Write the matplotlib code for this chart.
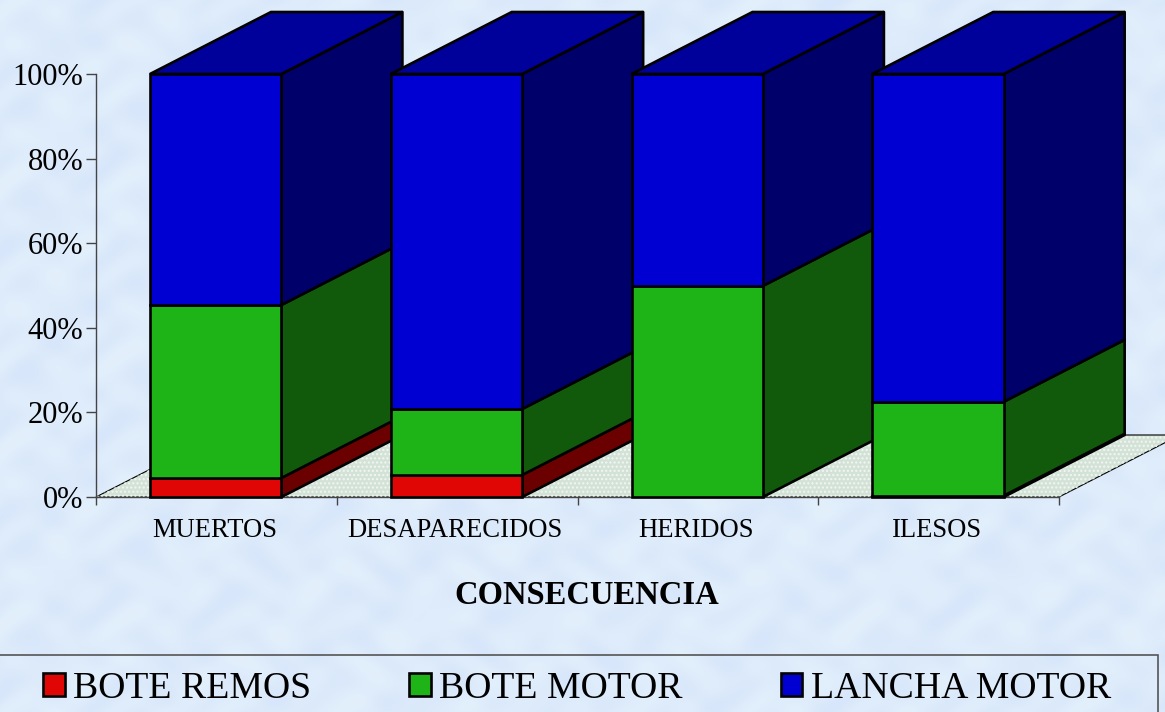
import numpy as np
import matplotlib
matplotlib.use("Agg")
import matplotlib.pyplot as plt
from matplotlib.patches import Polygon, Patch, Rectangle

plt.rcParams['font.family'] = ['Liberation Serif', 'DejaVu Serif']

categorias = ["MUERTOS", "DESAPARECIDOS", "HERIDOS", "ILESOS"]
bote_remos = [4.5, 5.2, 0.0, 0.3]
bote_motor = [40.9, 15.6, 49.9, 22.2]
lancha_motor = [54.6, 79.2, 50.1, 77.5]
nombres = ["BOTE REMOS", "BOTE MOTOR", "LANCHA MOTOR"]
yticks = [0, 20, 40, 60, 80, 100]

frente = ["#e00606", "#1eb417", "#0000d2"]
lado = ["#6b0000", "#115a0b", "#00006b"]
techo = "#00009a"

W, H = 1165, 712
dx = 121 / 240.75   # depth of the fake 3d, in category units
dy = 62 / 4.23      # same, in percent units
ancho = 131.4 / 240.75
margen = 54 / 240.75
lw = 1.9

fig = plt.figure(figsize=(W / 100, H / 100), dpi=100)

# mottled pale blue background
bg = fig.add_axes([0, 0, 1, 1], zorder=-1)
yy, xx = np.mgrid[0:H, 0:W]
manchas = (np.sin(xx / 9.0 + np.sin(yy / 14.0) * 2) + np.sin(yy / 7.0 + np.sin(xx / 17.0) * 2)
           + np.sin((xx + yy) / 23.0)) / 3
base = np.array([221, 235, 251]) / 255
tinte = np.array([6, 5, 1]) / 255
bg.imshow(np.clip(base + manchas[..., None] * tinte, 0, 1), aspect='auto')
bg.axis('off')

ax = fig.add_axes([96 / W, (H - 497) / H, 963 / W, 423 / H])
ax.patch.set_alpha(0)
ax.set_xlim(0, 4)
ax.set_ylim(0, 100)

# floor
suelo = Polygon([(0, 0), (4, 0), (4 + dx, dy), (dx, dy)], closed=True, clip_on=False,
                facecolor="#d3e2d6", edgecolor="black", lw=0.8, zorder=1)
ax.add_patch(suelo)
plt.rcParams['hatch.color'] = "#f2f6f2"
ax.add_patch(Polygon([(0, 0), (4, 0), (4 + dx, dy), (dx, dy)], closed=True, clip_on=False,
                     facecolor="none", lw=0, hatch="....", zorder=1))

series = [bote_remos, bote_motor, lancha_motor]
z = 3
for i in range(len(categorias)):
    x0 = i + margen
    x1 = x0 + ancho
    abajo = 0
    for s, vals in enumerate(series):
        v = vals[i]
        arriba = abajo + v
        if v > 0:
            ax.add_patch(Polygon([(x1, abajo), (x1 + dx, abajo + dy), (x1 + dx, arriba + dy), (x1, arriba)],
                                 closed=True, clip_on=False, facecolor=lado[s], edgecolor="black",
                                 lw=lw, joinstyle='round', zorder=z))
            ax.add_patch(Rectangle((x0, abajo), ancho, v, clip_on=False, facecolor=frente[s],
                                   edgecolor="black", lw=lw, zorder=z + 0.1))
        abajo = arriba
    ax.add_patch(Polygon([(x0, abajo), (x1, abajo), (x1 + dx, abajo + dy), (x0 + dx, abajo + dy)],
                         closed=True, clip_on=False, facecolor=techo, edgecolor="black",
                         lw=lw, zorder=z))
    z += 1

for lado_eje in ['top', 'right']:
    ax.spines[lado_eje].set_visible(False)
for lado_eje in ['left', 'bottom']:
    ax.spines[lado_eje].set_color("#444444")
    ax.spines[lado_eje].set_linewidth(1.0)
    ax.spines[lado_eje].set_zorder(2)

ax.set_yticks(yticks)
ax.set_yticklabels([f"{t}%" for t in yticks], fontsize=22)
ax.tick_params(axis='y', length=7, width=1, color="#444444", pad=2)
ax.set_xticks(range(5))
ax.set_xticklabels([])
ax.tick_params(axis='x', which='major', length=6, width=1, color="#444444")
ax.set_xticks([i + margen + ancho / 2 - 0.005 for i in range(4)], minor=True)
ax.set_xticklabels(categorias, minor=True, fontsize=19.2)
ax.tick_params(axis='x', which='minor', length=0, pad=15)
ax.set_xlabel("CONSECUENCIA", fontsize=23.5, fontweight='bold', x=0.51, labelpad=27)

# legend box, runs off the bottom of the picture
fig.add_artist(Rectangle((-2 / W, -10 / H), 1160 / W, (H - 655 + 10) / H, transform=fig.transFigure,
                         facecolor="none", edgecolor="#555555", lw=1.2))
handles = [Patch(facecolor=c, edgecolor="black", lw=1.9) for c in frente]
fig.legend(handles, nombres, ncol=3, frameon=False, fontsize=27.2, loc='lower left',
           bbox_to_anchor=(43 / W, 6 / H), borderaxespad=0, borderpad=0,
           handlelength=0.57, handleheight=0.57, handletextpad=0.22, columnspacing=2.6)

plt.savefig("out.png", dpi=100)
